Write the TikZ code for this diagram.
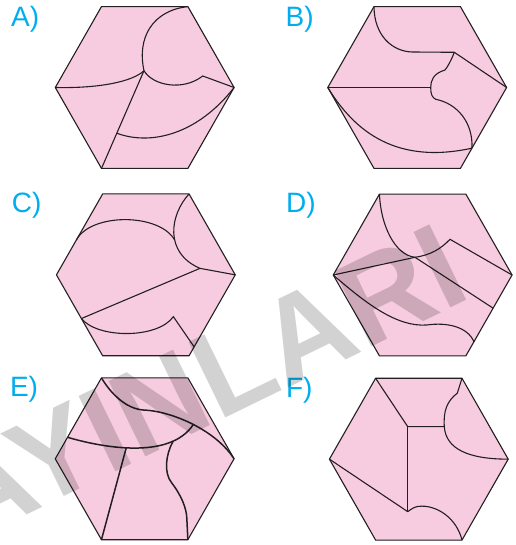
\documentclass[tikz,border=0pt]{standalone}
\usepackage{fontspec}
\setmainfont{Liberation Sans}
\usetikzlibrary{calc}
\definecolor{hexpink}{RGB}{248,204,224}
\definecolor{labblue}{RGB}{0,174,239}
\definecolor{inkline}{RGB}{35,31,32}
\definecolor{wmgray}{RGB}{210,210,210}
\tikzset{
  hexface/.style={fill=hexpink, draw=inkline, line width=1.1pt, line join=miter},
  cutline/.style={draw=inkline, line width=1.1pt},
  thickcut/.style={draw=inkline, line width=1.5pt},
  optlabel/.style={text=labblue, font=\fontsize{28}{28}\selectfont, anchor=base west, inner sep=0pt},
  watermark/.style={text=wmgray, font=\bfseries\fontsize{122}{122}\selectfont, rotate=26, anchor=base east, inner sep=0pt, blend mode=multiply}
}
\newcommand\hexshape{%
  \coordinate (TL) at (-43.2,-80.9);
  \coordinate (TR) at (43.2,-80.9);
  \coordinate (R) at (89.4,0);
  \coordinate (BR) at (43.2,80.9);
  \coordinate (BL) at (-43.2,80.9);
  \coordinate (L) at (-89.4,0);
  \draw[hexface] (TL) -- (TR) -- (R) -- (BR) -- (BL) -- (L) -- cycle;}
\begin{document}
\begin{tikzpicture}[x=1pt,y=-1pt]
\useasboundingbox (0,0) rectangle (515,545);
\fill[white] (0,0) rectangle (515,545);

% ---------- A ----------
\begin{scope}[shift={(144.7,87.5)}]
  \hexshape
  \coordinate (P) at (-0.7,-16.8);
  \coordinate (Q) at ($(P)!0.64!(BL)$);
  \draw[cutline] (L) .. controls (-45,1) and (-12,-6) .. (P);
  \draw[cutline] (P) -- (BL);
  \draw[cutline] (P) .. controls (-8,-50) and (8,-77) .. (TR);
  \draw[cutline] (P) .. controls (8,-2) and (38,4) .. (58,-11.5) -- (R);
  \draw[cutline] (Q) .. controls (5,58) and (52,48) .. (R);
\end{scope}

% ---------- B ----------
\begin{scope}[shift={(417.2,87.5)}]
  \hexshape
  \coordinate (M) at (13.5,0);
  \coordinate (N) at (37.1,-35.2);
  \coordinate (S) at ($(R)!0.75!(BR)$);
  \draw[cutline] (L) -- (M);
  \draw[cutline] (TL) .. controls (-43,-52) and (-25,-36) .. (-5,-35.5) -- (N) -- (R);
  \draw[cutline] (N) .. controls (34,-27) and (30,-20) .. (27.8,-17.5)
     .. controls (16,-14) and (13.5,-7) .. (M)
     .. controls (13.5,7) and (15,10) .. (18.5,11.8)
     .. controls (40,16) and (56,35) .. (S);
  \draw[cutline] (L) .. controls (-62,45) and (-20,77) .. (S);
\end{scope}

% ---------- C ----------
\begin{scope}[shift={(145.85,274.85)}]
  \hexshape
  \coordinate (U1) at ($(L)!0.43!(TL)$);
  \coordinate (V) at (54.15,-6.5);
  \coordinate (W) at ($(L)!0.54!(BL)$);
  \coordinate (X) at (27.5,41.8);
  \coordinate (Y) at ($(R)!0.89!(BR)$);
  \draw[cutline] (TR) .. controls (24,-60) and (18,-22) .. (V) coordinate[pos=0.58] (U2) -- (R);
  \draw[cutline] (U1) .. controls (-55,-62) and (13,-62) .. (U2);
  \draw[cutline] (V) -- (W);
  \draw[cutline] (W) .. controls (-48,64) and (12,64) .. (X) -- (Y);
\end{scope}

% ---------- D ----------
\begin{scope}[shift={(422.65,275)}]
  \hexshape
  \coordinate (J) at (-7.65,-17.7);
  \coordinate (Pk) at (27.35,-35.7);
  \coordinate (K) at ($(R)!0.41!(BR)$);
  \coordinate (Ee) at ($(R)!0.825!(BR)$);
  \draw[cutline] (TL) .. controls (-42,-50) and (-28,-20) .. (J)
     .. controls (8,-20) and (18,-26) .. (Pk) -- (R);
  \draw[cutline] (L) -- (J) -- (K);
  \draw[cutline] (L) .. controls (-55,30) and (-25,52) .. (4,50)
     .. controls (25,47) and (45,52) .. (Ee);
\end{scope}

% ---------- E ----------
\begin{scope}[shift={(144.65,458.8)}]
  \hexshape
  \coordinate (Ec) at (-1.3,-48.8);
  \coordinate (G) at ($(L)!0.266!(TL)$);
  \draw[thickcut] (TL) .. controls (-33,-64) and (-18,-50) .. (Ec)
     .. controls (25,-48) and (70,-30) .. (R) coordinate[pos=0.52] (H);
  \draw[thickcut] (G) .. controls (-45,-12) and (25,2) .. (H)
     coordinate[pos=0.45] (Ek) coordinate[pos=0.79] (Em);
  \draw[thickcut] (Ek) -- (BL);
  \draw[thickcut] (Em) .. controls (21,-4) and (19,14) .. (27,24)
     .. controls (37,37) and (42,50) .. (42.2,60) -- (BR);
\end{scope}

% ---------- F ----------
\begin{scope}[shift={(418.8,459.15)}]
  \hexshape
  \coordinate (Q1) at (-11.1,-32.5);
  \coordinate (Q2) at (25.5,-32.5);
  \coordinate (Q3) at (-11.1,52.5);
  \draw[cutline] (TL) -- (Q1) -- (Q2);
  \draw[cutline] (Q1) -- (Q3);
  \draw[cutline] (TR) -- (38.5,-66) .. controls (28,-58) and (24.5,-48) .. (Q2)
     .. controls (27,-10) and (50,0) .. (R);
  \draw[cutline] (L) -- (Q3);
  \draw[cutline] (Q3) .. controls (-6,49) and (-4,47) .. (3,47)
     .. controls (20,47) and (38,60) .. (BR);
\end{scope}

% ---------- labels ----------
\node[optlabel] (labA) at (11,27) {A)};
\node[optlabel] (labB) at (285.5,27) {B)};
\node[optlabel] (labC) at (11.6,212) {C)};
\node[optlabel] (labD) at (286,212) {D)};
\node[optlabel] (labE) at (9.8,396) {E)};
\node[optlabel] (labF) at (285.8,397) {F)};

% ---------- watermark ----------
\node[watermark] (wm) at (474,297) {AYINLARI};
\end{tikzpicture}
\end{document}
